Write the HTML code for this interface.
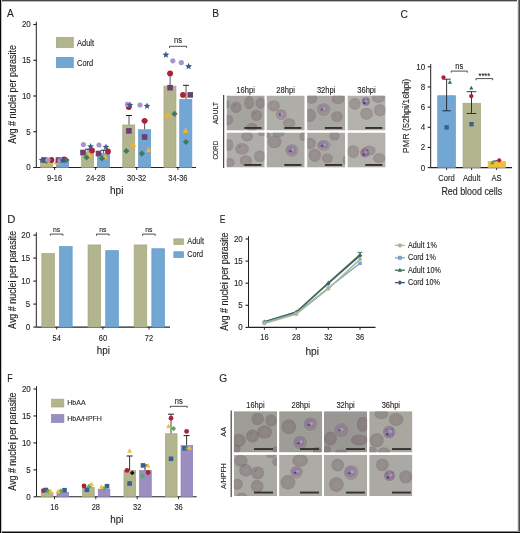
<!DOCTYPE html>
<html><head><meta charset="utf-8"><style>html,body{margin:0;padding:0;background:#fff;overflow:hidden;}svg{display:block;will-change:transform;}text{font-family:"Liberation Sans", sans-serif;}</style></head>
<body>
<svg width="520" height="533" viewBox="0 0 520 533" font-family='"Liberation Sans", sans-serif'>
<defs><radialGradient id="rbcG" cx="0.5" cy="0.5" r="0.5"><stop offset="0" stop-color="#5f4850" stop-opacity="0.26"/><stop offset="0.8" stop-color="#5f4850" stop-opacity="0.31"/><stop offset="1" stop-color="#5f4850" stop-opacity="0.39"/></radialGradient><radialGradient id="rbcB" cx="0.5" cy="0.5" r="0.5"><stop offset="0" stop-color="#5f4850" stop-opacity="0.24"/><stop offset="0.8" stop-color="#5f4850" stop-opacity="0.29"/><stop offset="1" stop-color="#5f4850" stop-opacity="0.37"/></radialGradient></defs>
<rect width="520" height="533" fill="#fff"/>
<g shape-rendering="crispEdges">
<rect x="0" y="0" width="520" height="1" fill="#474747"/>
<rect x="0" y="1" width="520" height="1" fill="#bdbdbd"/>
<rect x="517" y="0" width="1" height="533" fill="#e6e6e6"/>
<rect x="518" y="0" width="1" height="533" fill="#8a8a8a"/>
<rect x="519" y="0" width="1" height="533" fill="#484848"/>
<rect x="0" y="531" width="520" height="1" fill="#8c8c8c"/>
<rect x="0" y="532" width="520" height="1" fill="#080808"/>
<rect x="0" y="0" width="1" height="533" fill="#080808"/>
<rect x="1" y="0" width="1" height="533" fill="#c4c4c4"/>
</g>
<text x="7" y="16.9" font-size="11.3" textLength="6.78" lengthAdjust="spacingAndGlyphs" fill="#231f20" stroke="#231f20" stroke-width="0.12">A</text>
<text x="212.2" y="17.3" font-size="11.3" textLength="6.78" lengthAdjust="spacingAndGlyphs" fill="#231f20" stroke="#231f20" stroke-width="0.12">B</text>
<text x="400.5" y="17.7" font-size="11.3" textLength="7.34" lengthAdjust="spacingAndGlyphs" fill="#231f20" stroke="#231f20" stroke-width="0.12">C</text>
<text x="7.2" y="222.5" font-size="11.3" textLength="8.16" lengthAdjust="spacingAndGlyphs" fill="#231f20" stroke="#231f20" stroke-width="0.12">D</text>
<text x="219.7" y="222.8" font-size="11.3" textLength="5.73" lengthAdjust="spacingAndGlyphs" fill="#231f20" stroke="#231f20" stroke-width="0.12">E</text>
<text x="7.2" y="381.9" font-size="11.3" textLength="5.38" lengthAdjust="spacingAndGlyphs" fill="#231f20" stroke="#231f20" stroke-width="0.12">F</text>
<text x="219.3" y="381.6" font-size="11.3" textLength="7.91" lengthAdjust="spacingAndGlyphs" fill="#231f20" stroke="#231f20" stroke-width="0.12">G</text>
<line x1="36.3" y1="21.7" x2="36.3" y2="167.5" stroke="#231f20" stroke-width="1"/>
<line x1="33.3" y1="167.5" x2="36.3" y2="167.5" stroke="#231f20" stroke-width="1.1"/>
<text x="30.8" y="170.4" font-size="8.4" text-anchor="end" textLength="4.45" lengthAdjust="spacingAndGlyphs" fill="#231f20" stroke="#231f20" stroke-width="0.12">0</text>
<line x1="33.3" y1="131.75" x2="36.3" y2="131.75" stroke="#231f20" stroke-width="1.1"/>
<text x="30.8" y="134.65" font-size="8.4" text-anchor="end" textLength="4.45" lengthAdjust="spacingAndGlyphs" fill="#231f20" stroke="#231f20" stroke-width="0.12">5</text>
<line x1="33.3" y1="96.0" x2="36.3" y2="96.0" stroke="#231f20" stroke-width="1.1"/>
<text x="30.8" y="98.9" font-size="8.4" text-anchor="end" textLength="8.9" lengthAdjust="spacingAndGlyphs" fill="#231f20" stroke="#231f20" stroke-width="0.12">10</text>
<line x1="33.3" y1="60.25" x2="36.3" y2="60.25" stroke="#231f20" stroke-width="1.1"/>
<text x="30.8" y="63.15" font-size="8.4" text-anchor="end" textLength="8.9" lengthAdjust="spacingAndGlyphs" fill="#231f20" stroke="#231f20" stroke-width="0.12">15</text>
<line x1="33.3" y1="24.5" x2="36.3" y2="24.5" stroke="#231f20" stroke-width="1.1"/>
<text x="30.8" y="27.4" font-size="8.4" text-anchor="end" textLength="8.9" lengthAdjust="spacingAndGlyphs" fill="#231f20" stroke="#231f20" stroke-width="0.12">20</text>
<line x1="36.3" y1="167.5" x2="196" y2="167.5" stroke="#231f20" stroke-width="1.1"/>
<line x1="54.6" y1="167.5" x2="54.6" y2="170.0" stroke="#231f20" stroke-width="0.9"/>
<text x="54.6" y="181" font-size="8.62" text-anchor="middle" textLength="15.01" lengthAdjust="spacingAndGlyphs" fill="#231f20" stroke="#231f20" stroke-width="0.12">9-16</text>
<line x1="95.6" y1="167.5" x2="95.6" y2="170.0" stroke="#231f20" stroke-width="0.9"/>
<text x="95.6" y="181" font-size="8.62" text-anchor="middle" textLength="19.18" lengthAdjust="spacingAndGlyphs" fill="#231f20" stroke="#231f20" stroke-width="0.12">24-28</text>
<line x1="136.7" y1="167.5" x2="136.7" y2="170.0" stroke="#231f20" stroke-width="0.9"/>
<text x="136.7" y="181" font-size="8.62" text-anchor="middle" textLength="19.18" lengthAdjust="spacingAndGlyphs" fill="#231f20" stroke="#231f20" stroke-width="0.12">30-32</text>
<line x1="177.9" y1="167.5" x2="177.9" y2="170.0" stroke="#231f20" stroke-width="0.9"/>
<text x="177.9" y="181" font-size="8.62" text-anchor="middle" textLength="19.18" lengthAdjust="spacingAndGlyphs" fill="#231f20" stroke="#231f20" stroke-width="0.12">34-36</text>
<text x="116.7" y="194.4" font-size="10.35" text-anchor="middle" textLength="13.4" lengthAdjust="spacingAndGlyphs" fill="#231f20" stroke="#231f20" stroke-width="0.12">hpi</text>
<text x="15.8" y="94.4" font-size="10.2" text-anchor="middle" transform="rotate(-90 15.8 94.4)" textLength="98.6" lengthAdjust="spacingAndGlyphs" fill="#231f20" stroke="#231f20" stroke-width="0.12">Avg # nuclei per parasite</text>
<rect x="40.65" y="161.35" width="12.00" height="6.15" fill="#b3b58f" stroke="#a4a67e" stroke-width="0.7"/>
<rect x="56.45" y="161.35" width="12.10" height="6.15" fill="#72a7d3" stroke="#5f98c8" stroke-width="0.7"/>
<rect x="81.65" y="151.85" width="12.00" height="15.65" fill="#b3b58f" stroke="#a4a67e" stroke-width="0.7"/>
<rect x="97.45" y="153.35" width="12.10" height="14.15" fill="#72a7d3" stroke="#5f98c8" stroke-width="0.7"/>
<rect x="122.75" y="124.95" width="12.00" height="42.55" fill="#b3b58f" stroke="#a4a67e" stroke-width="0.7"/>
<rect x="138.55" y="129.75" width="12.10" height="37.75" fill="#72a7d3" stroke="#5f98c8" stroke-width="0.7"/>
<rect x="163.95" y="86.15" width="12.00" height="81.35" fill="#b3b58f" stroke="#a4a67e" stroke-width="0.7"/>
<rect x="179.75" y="99.55" width="12.10" height="67.95" fill="#72a7d3" stroke="#5f98c8" stroke-width="0.7"/>
<line x1="88" y1="149.2" x2="88" y2="151.5" stroke="#555" stroke-width="1"/>
<line x1="85.0" y1="149.2" x2="91.0" y2="149.2" stroke="#231f20" stroke-width="1"/>
<line x1="103.6" y1="150.2" x2="103.6" y2="153" stroke="#555" stroke-width="1"/>
<line x1="100.6" y1="150.2" x2="106.6" y2="150.2" stroke="#231f20" stroke-width="1"/>
<line x1="129" y1="115.5" x2="129" y2="124.6" stroke="#555" stroke-width="1"/>
<line x1="126.0" y1="115.5" x2="132.0" y2="115.5" stroke="#231f20" stroke-width="1"/>
<line x1="144.6" y1="120.8" x2="144.6" y2="129.4" stroke="#555" stroke-width="1"/>
<line x1="141.6" y1="120.8" x2="147.6" y2="120.8" stroke="#231f20" stroke-width="1"/>
<line x1="170.1" y1="73.4" x2="170.1" y2="85.8" stroke="#555" stroke-width="1"/>
<line x1="167.1" y1="73.4" x2="173.1" y2="73.4" stroke="#231f20" stroke-width="1"/>
<line x1="186" y1="85.3" x2="186" y2="99.2" stroke="#555" stroke-width="1"/>
<line x1="183.0" y1="85.3" x2="189.0" y2="85.3" stroke="#231f20" stroke-width="1"/>
<rect x="56.35" y="37.35" width="16.90" height="10.35" fill="#b3b58f" stroke="#a4a67e" stroke-width="0.7"/>
<rect x="56.35" y="57.35" width="16.90" height="10.35" fill="#72a7d3" stroke="#5f98c8" stroke-width="0.7"/>
<text x="77" y="45.5" font-size="8.62" textLength="17.1" lengthAdjust="spacingAndGlyphs" fill="#231f20" stroke="#231f20" stroke-width="0.12">Adult</text>
<text x="77" y="65.5" font-size="8.62" textLength="16.26" lengthAdjust="spacingAndGlyphs" fill="#231f20" stroke="#231f20" stroke-width="0.12">Cord</text>
<path d="M169.5 47.9 L169.5 46.3 L186.6 46.3 L186.6 47.9" fill="none" stroke="#231f20" stroke-width="0.8"/>
<text x="178.05" y="43.2" font-size="8.62" text-anchor="middle" textLength="7.92" lengthAdjust="spacingAndGlyphs" fill="#231f20" stroke="#231f20" stroke-width="0.12">ns</text>
<polygon points="48.5,159.06 51.5,164.46 45.5,164.46" fill="#f0b52e"/>
<circle cx="51.5" cy="160" r="2.9" fill="#aa2339"/>
<rect x="41.7" y="157.2" width="5.6" height="5.6" fill="#6b3f6e"/>
<polygon points="46.5,157.9 49.6,161 46.5,164.1 43.4,161" fill="#3f7a5a"/>
<circle cx="48" cy="160" r="2.6" fill="#a597cb"/>
<polygon points="42.00,156.40 42.95,158.69 45.42,158.89 43.54,160.50 44.12,162.91 42.00,161.62 39.88,162.91 40.46,160.50 38.58,158.89 41.05,158.69" fill="#3c5b8c"/>
<polygon points="56.5,159.06 59.5,164.46 53.5,164.46" fill="#f0b52e"/>
<circle cx="64" cy="159.5" r="2.9" fill="#aa2339"/>
<rect x="55.7" y="157.2" width="5.6" height="5.6" fill="#6b3f6e"/>
<polygon points="66.5,156.9 69.6,160 66.5,163.1 63.4,160" fill="#3f7a5a"/>
<circle cx="60" cy="160.5" r="2.6" fill="#a597cb"/>
<polygon points="62.50,156.90 63.45,159.19 65.92,159.39 64.04,161.00 64.62,163.41 62.50,162.12 60.38,163.41 60.96,161.00 59.08,159.39 61.55,159.19" fill="#3c5b8c"/>
<polygon points="89.5,151.76 92.5,157.16 86.5,157.16" fill="#f0b52e"/>
<circle cx="92" cy="150.5" r="2.9" fill="#aa2339"/>
<rect x="80.2" y="149.7" width="5.6" height="5.6" fill="#6b3f6e"/>
<polygon points="86.5,154.4 89.6,157.5 86.5,160.6 83.4,157.5" fill="#3f7a5a"/>
<circle cx="83.4" cy="144.6" r="2.6" fill="#a597cb"/>
<polygon points="90.60,142.90 91.55,145.19 94.02,145.39 92.14,147.00 92.72,149.41 90.60,148.12 88.48,149.41 89.06,147.00 87.18,145.39 89.65,145.19" fill="#3c5b8c"/>
<polygon points="105,153.76 108.0,159.16 102.0,159.16" fill="#f0b52e"/>
<circle cx="108" cy="151.5" r="2.9" fill="#aa2339"/>
<rect x="95.7" y="150.7" width="5.6" height="5.6" fill="#6b3f6e"/>
<polygon points="102,155.4 105.1,158.5 102,161.6 98.9,158.5" fill="#3f7a5a"/>
<circle cx="99" cy="145" r="2.6" fill="#a597cb"/>
<polygon points="106.00,143.40 106.95,145.69 109.42,145.89 107.54,147.50 108.12,149.91 106.00,148.62 103.88,149.91 104.46,147.50 102.58,145.89 105.05,145.69" fill="#3c5b8c"/>
<circle cx="128.8" cy="107" r="2.9" fill="#aa2339"/>
<polygon points="133.2,141.35999999999999 136.2,146.76 130.2,146.76" fill="#f0b52e"/>
<rect x="126.10000000000001" y="128.1" width="5.6" height="5.6" fill="#6b3f6e"/>
<polygon points="126.3,147.9 129.4,151 126.3,154.1 123.2,151" fill="#3f7a5a"/>
<circle cx="127.5" cy="104.4" r="2.6" fill="#a597cb"/>
<polygon points="130.00,101.40 130.95,103.69 133.42,103.89 131.54,105.50 132.12,107.91 130.00,106.62 127.88,107.91 128.46,105.50 126.58,103.89 129.05,103.69" fill="#3c5b8c"/>
<polygon points="148.7,146.76 151.7,152.16 145.7,152.16" fill="#f0b52e"/>
<circle cx="144.6" cy="120.8" r="2.9" fill="#aa2339"/>
<rect x="141.79999999999998" y="134.2" width="5.6" height="5.6" fill="#6b3f6e"/>
<polygon points="141.9,150.5 145.0,153.6 141.9,156.7 138.8,153.6" fill="#3f7a5a"/>
<circle cx="140" cy="105" r="2.6" fill="#a597cb"/>
<polygon points="147.00,102.40 147.95,104.69 150.42,104.89 148.54,106.50 149.12,108.91 147.00,107.62 144.88,108.91 145.46,106.50 143.58,104.89 146.05,104.69" fill="#3c5b8c"/>
<polygon points="167.7,111.86 170.7,117.25999999999999 164.7,117.25999999999999" fill="#f0b52e"/>
<circle cx="170.1" cy="73.4" r="2.9" fill="#aa2339"/>
<rect x="167.29999999999998" y="84.9" width="5.6" height="5.6" fill="#6b3f6e"/>
<polygon points="174.5,110.7 177.6,113.8 174.5,116.89999999999999 171.4,113.8" fill="#3f7a5a"/>
<circle cx="172.8" cy="60.8" r="2.6" fill="#a597cb"/>
<polygon points="165.90,51.30 166.85,53.59 169.32,53.79 167.44,55.40 168.02,57.81 165.90,56.52 163.78,57.81 164.36,55.40 162.48,53.79 164.95,53.59" fill="#3c5b8c"/>
<polygon points="185.6,127.56000000000002 188.6,132.96 182.6,132.96" fill="#f0b52e"/>
<circle cx="183" cy="94.9" r="2.9" fill="#aa2339"/>
<rect x="187.39999999999998" y="92.10000000000001" width="5.6" height="5.6" fill="#6b3f6e"/>
<polygon points="186,138.9 189.1,142 186,145.1 182.9,142" fill="#3f7a5a"/>
<circle cx="181.3" cy="62.6" r="2.6" fill="#a597cb"/>
<polygon points="188.60,62.80 189.55,65.09 192.02,65.29 190.14,66.90 190.72,69.31 188.60,68.02 186.48,69.31 187.06,66.90 185.18,65.29 187.65,65.09" fill="#3c5b8c"/>
<line x1="223.7" y1="95" x2="223.7" y2="168" stroke="#231f20" stroke-width="1"/>
<text x="245.6" y="92.7" font-size="8.74" text-anchor="middle" textLength="18.6" lengthAdjust="spacingAndGlyphs" fill="#231f20" stroke="#231f20" stroke-width="0.12">16hpi</text>
<text x="285.6" y="92.7" font-size="8.74" text-anchor="middle" textLength="18.6" lengthAdjust="spacingAndGlyphs" fill="#231f20" stroke="#231f20" stroke-width="0.12">28hpi</text>
<text x="326.20000000000005" y="92.7" font-size="8.74" text-anchor="middle" textLength="18.6" lengthAdjust="spacingAndGlyphs" fill="#231f20" stroke="#231f20" stroke-width="0.12">32hpi</text>
<text x="366.5" y="92.7" font-size="8.74" text-anchor="middle" textLength="18.6" lengthAdjust="spacingAndGlyphs" fill="#231f20" stroke="#231f20" stroke-width="0.12">36hpi</text>
<text x="218.5" y="113.1" font-size="8.05" text-anchor="middle" transform="rotate(-90 218.5 113.1)" textLength="22.43" lengthAdjust="spacingAndGlyphs" fill="#231f20" stroke="#231f20" stroke-width="0.12">ADULT</text>
<text x="218.5" y="150.1" font-size="8.05" text-anchor="middle" transform="rotate(-90 218.5 150.1)" textLength="18.9" lengthAdjust="spacingAndGlyphs" fill="#231f20" stroke="#231f20" stroke-width="0.12">CORD</text>
<clipPath id="c226_95"><rect x="226.5" y="95.5" width="38.2" height="35.1"/></clipPath>
<g clip-path="url(#c226_95)">
<rect x="226.5" y="95.5" width="38.2" height="35.1" fill="#a5a49e"/>
<ellipse cx="236.0" cy="107.4" rx="5.6" ry="5.6" fill="url(#rbcB)"/>
<circle cx="234.04" cy="105.72" r="0.7" fill="#5a4a88" opacity="0.5"/>
<circle cx="235.44" cy="104.88000000000001" r="0.5" fill="#5a3a7a" opacity="0.5"/>
<ellipse cx="249.1" cy="102.7" rx="4.8" ry="6.6" fill="url(#rbcB)"/>
<ellipse cx="260.5" cy="103.1" rx="5" ry="5.6" fill="url(#rbcB)"/>
<ellipse cx="256.5" cy="115.3" rx="5.6" ry="5.6" fill="url(#rbcB)"/>
<circle cx="254.54" cy="113.61999999999999" r="0.7" fill="#5a4a88" opacity="0.5"/>
<circle cx="255.94" cy="112.78" r="0.5" fill="#5a3a7a" opacity="0.5"/>
<ellipse cx="228.5" cy="120.0" rx="4.5" ry="5" fill="url(#rbcB)"/>
<ellipse cx="227.0" cy="104.5" rx="2.5" ry="4" fill="url(#rbcB)"/>
<ellipse cx="251.8" cy="127.1" rx="5.5" ry="4" fill="url(#rbcB)"/>
<rect x="244.29999999999998" y="127.0" width="17.2" height="1.9" fill="#35322e"/>
</g>
<clipPath id="c266_95"><rect x="266.5" y="95.5" width="38.2" height="35.1"/></clipPath>
<g clip-path="url(#c266_95)">
<rect x="266.5" y="95.5" width="38.2" height="35.1" fill="#b0aea9"/>
<ellipse cx="273.8" cy="105.8" rx="6" ry="5.6" fill="url(#rbcB)"/>
<ellipse cx="281.3" cy="114.5" rx="6.3999999999999995" ry="6.3999999999999995" fill="#ffffff" fill-opacity="0.12"/>
<ellipse cx="281.3" cy="114.5" rx="5.8" ry="5.8" fill="url(#rbcB)"/>
<ellipse cx="281.3" cy="113.63" rx="4.176" ry="3.596" fill="#8c78ac" opacity="0.42"/>
<circle cx="281.88" cy="113.92" r="1.16" fill="#d2c8cc" opacity="0.45"/>
<circle cx="279.85" cy="114.5" r="0.9" fill="#4a2a40" opacity="0.8"/>
<ellipse cx="289.1" cy="123.2" rx="6" ry="5" fill="url(#rbcB)"/>
<rect x="284.3" y="127.0" width="17.2" height="1.9" fill="#35322e"/>
</g>
<clipPath id="c307_95"><rect x="307.1" y="95.5" width="38.2" height="35.1"/></clipPath>
<g clip-path="url(#c307_95)">
<rect x="307.1" y="95.5" width="38.2" height="35.1" fill="#a8a7a1"/>
<ellipse cx="311.6" cy="98.7" rx="5.5" ry="5" fill="url(#rbcB)"/>
<ellipse cx="338.0" cy="99.1" rx="6.5" ry="5" fill="url(#rbcB)"/>
<ellipse cx="310.0" cy="115.3" rx="6" ry="6.5" fill="url(#rbcB)"/>
<ellipse cx="323.5" cy="109.4" rx="7.6" ry="7.1" fill="#ffffff" fill-opacity="0.12"/>
<ellipse cx="323.5" cy="109.4" rx="7" ry="6.5" fill="url(#rbcB)"/>
<ellipse cx="323.5" cy="108.42500000000001" rx="5.04" ry="4.03" fill="#8c78ac" opacity="0.42"/>
<circle cx="324.2" cy="108.75" r="1.3" fill="#d2c8cc" opacity="0.45"/>
<circle cx="321.75" cy="109.4" r="0.9" fill="#4a2a40" opacity="0.8"/>
<ellipse cx="336.90000000000003" cy="116.5" rx="5.8" ry="5.3" fill="url(#rbcB)"/>
<rect x="324.90000000000003" y="127.0" width="17.2" height="1.9" fill="#35322e"/>
</g>
<clipPath id="c347_95"><rect x="347.4" y="95.5" width="38.2" height="35.1"/></clipPath>
<g clip-path="url(#c347_95)">
<rect x="347.4" y="95.5" width="38.2" height="35.1" fill="#b3b2ad"/>
<ellipse cx="354.79999999999995" cy="103.9" rx="5.8" ry="5.8" fill="url(#rbcB)"/>
<ellipse cx="378.4" cy="97.9" rx="6.5" ry="5" fill="url(#rbcB)"/>
<ellipse cx="366.59999999999997" cy="113.7" rx="6.3" ry="6" fill="url(#rbcB)"/>
<ellipse cx="380.0" cy="110.2" rx="6" ry="6" fill="url(#rbcB)"/>
<ellipse cx="365.79999999999995" cy="101.5" rx="5.199999999999999" ry="5.199999999999999" fill="#ffffff" fill-opacity="0.12"/>
<ellipse cx="365.79999999999995" cy="101.5" rx="4.6" ry="4.6" fill="url(#rbcB)"/>
<ellipse cx="365.79999999999995" cy="101.5" rx="4.14" ry="4.14" fill="#8a6aa6" opacity="0.45"/>
<circle cx="363.49999999999994" cy="101.27" r="1" fill="#6a6ab0" opacity="0.6"/>
<circle cx="368.09999999999997" cy="102.88" r="1" fill="#a04a88" opacity="0.6"/>
<circle cx="366.03" cy="104.03" r="0.9" fill="#7060a8" opacity="0.6"/>
<circle cx="366.71999999999997" cy="101.04" r="1.012" fill="#cfc3cf" opacity="0.45"/>
<circle cx="364.41999999999996" cy="103.11" r="1.1" fill="#3a2030" opacity="0.85"/>
<circle cx="367.86999999999995" cy="99.43" r="0.7" fill="#5a3060" opacity="0.8"/>
<circle cx="363.72999999999996" cy="99.66" r="0.7" fill="#7a3a70" opacity="0.8"/>
<rect x="365.2" y="127.0" width="17.2" height="1.9" fill="#35322e"/>
</g>
<clipPath id="c226_132"><rect x="226.5" y="132.5" width="38.2" height="35.1"/></clipPath>
<g clip-path="url(#c226_132)">
<rect x="226.5" y="132.5" width="38.2" height="35.1" fill="#afaeaa"/>
<ellipse cx="247.1" cy="136.6" rx="6" ry="4.8" fill="url(#rbcB)"/>
<ellipse cx="228.9" cy="144.9" rx="4.5" ry="6" fill="url(#rbcB)"/>
<ellipse cx="242.0" cy="148.8" rx="6.8" ry="5.8" fill="url(#rbcB)"/>
<circle cx="239.62" cy="147.06" r="0.7" fill="#5a4a88" opacity="0.5"/>
<circle cx="241.32" cy="146.19" r="0.5" fill="#5a3a7a" opacity="0.5"/>
<ellipse cx="259.7" cy="156.3" rx="5.8" ry="5.8" fill="url(#rbcB)"/>
<ellipse cx="245.9" cy="160.7" rx="6" ry="5.5" fill="url(#rbcB)"/>
<ellipse cx="229.7" cy="162.6" rx="5" ry="4.5" fill="url(#rbcB)"/>
<ellipse cx="262.0" cy="133.5" rx="4" ry="2.5" fill="url(#rbcB)"/>
<rect x="244.29999999999998" y="164.0" width="17.2" height="1.9" fill="#35322e"/>
</g>
<clipPath id="c266_132"><rect x="266.5" y="132.5" width="38.2" height="35.1"/></clipPath>
<g clip-path="url(#c266_132)">
<rect x="266.5" y="132.5" width="38.2" height="35.1" fill="#abaaa5"/>
<ellipse cx="274.6" cy="141.7" rx="7" ry="6.3" fill="url(#rbcB)"/>
<ellipse cx="291.9" cy="150.4" rx="7.3999999999999995" ry="7.1" fill="#ffffff" fill-opacity="0.12"/>
<ellipse cx="291.9" cy="150.4" rx="6.8" ry="6.5" fill="url(#rbcB)"/>
<ellipse cx="291.21999999999997" cy="149.75" rx="4.896" ry="4.55" fill="#8a70aa" opacity="0.55"/>
<circle cx="288.84" cy="151.05" r="0.9" fill="#6a5aa0" opacity="0.5"/>
<circle cx="294.28" cy="152.675" r="0.8" fill="#a05090" opacity="0.5"/>
<circle cx="292.91999999999996" cy="149.75" r="1.43" fill="#d0c6cc" opacity="0.45"/>
<circle cx="290.53999999999996" cy="151.05" r="1" fill="#4a2a40" opacity="0.8"/>
<ellipse cx="278.5" cy="133.9" rx="6" ry="3" fill="url(#rbcB)"/>
<ellipse cx="303.0" cy="136.2" rx="3.5" ry="4.5" fill="url(#rbcB)"/>
<ellipse cx="267.5" cy="135.0" rx="3" ry="3" fill="url(#rbcB)"/>
<rect x="284.3" y="164.0" width="17.2" height="1.9" fill="#35322e"/>
</g>
<clipPath id="c307_132"><rect x="307.1" y="132.5" width="38.2" height="35.1"/></clipPath>
<g clip-path="url(#c307_132)">
<rect x="307.1" y="132.5" width="38.2" height="35.1" fill="#abaaa5"/>
<ellipse cx="334.5" cy="135.8" rx="5" ry="4.8" fill="url(#rbcB)"/>
<ellipse cx="310.40000000000003" cy="143.3" rx="5.5" ry="5.5" fill="url(#rbcB)"/>
<ellipse cx="323.8" cy="145.3" rx="7.6" ry="6.1" fill="#ffffff" fill-opacity="0.12"/>
<ellipse cx="323.8" cy="145.3" rx="7" ry="5.5" fill="url(#rbcB)"/>
<ellipse cx="323.1" cy="144.75" rx="5.04" ry="3.8499999999999996" fill="#8a70aa" opacity="0.55"/>
<circle cx="320.65000000000003" cy="145.85000000000002" r="0.9" fill="#6a5aa0" opacity="0.5"/>
<circle cx="326.25" cy="147.22500000000002" r="0.8" fill="#a05090" opacity="0.5"/>
<circle cx="324.85" cy="144.75" r="1.21" fill="#d0c6cc" opacity="0.45"/>
<circle cx="322.40000000000003" cy="145.85000000000002" r="1" fill="#4a2a40" opacity="0.8"/>
<ellipse cx="314.8" cy="155.2" rx="6" ry="6.5" fill="url(#rbcB)"/>
<ellipse cx="327.40000000000003" cy="158.3" rx="5.5" ry="4.8" fill="url(#rbcB)"/>
<ellipse cx="344.70000000000005" cy="160.3" rx="2" ry="4" fill="url(#rbcB)"/>
<rect x="324.90000000000003" y="164.0" width="17.2" height="1.9" fill="#35322e"/>
</g>
<clipPath id="c347_132"><rect x="347.4" y="132.5" width="38.2" height="35.1"/></clipPath>
<g clip-path="url(#c347_132)">
<rect x="347.4" y="132.5" width="38.2" height="35.1" fill="#b2b1ac"/>
<ellipse cx="353.2" cy="151.6" rx="6" ry="6.3" fill="url(#rbcB)"/>
<ellipse cx="369.0" cy="150.8" rx="6.5" ry="5" fill="url(#rbcB)"/>
<ellipse cx="379.2" cy="158.3" rx="6" ry="5" fill="url(#rbcB)"/>
<ellipse cx="365.0" cy="152.8" rx="5.6" ry="5.6" fill="#ffffff" fill-opacity="0.12"/>
<ellipse cx="365.0" cy="152.8" rx="5" ry="5" fill="url(#rbcB)"/>
<ellipse cx="365.0" cy="152.8" rx="4.5" ry="4.5" fill="#8a6aa6" opacity="0.45"/>
<circle cx="362.5" cy="152.55" r="1" fill="#6a6ab0" opacity="0.6"/>
<circle cx="367.5" cy="154.3" r="1" fill="#a04a88" opacity="0.6"/>
<circle cx="365.25" cy="155.55" r="0.9" fill="#7060a8" opacity="0.6"/>
<circle cx="366.0" cy="152.3" r="1.1" fill="#cfc3cf" opacity="0.45"/>
<circle cx="363.5" cy="154.55" r="1.1" fill="#3a2030" opacity="0.85"/>
<circle cx="367.25" cy="150.55" r="0.7" fill="#5a3060" opacity="0.8"/>
<circle cx="362.75" cy="150.8" r="0.7" fill="#7a3a70" opacity="0.8"/>
<rect x="365.2" y="164.0" width="17.2" height="1.9" fill="#35322e"/>
</g>
<line x1="231.2" y1="410.5" x2="231.2" y2="497" stroke="#444" stroke-width="1.2"/>
<text x="255.4" y="408.1" font-size="8.62" text-anchor="middle" textLength="18.35" lengthAdjust="spacingAndGlyphs" fill="#231f20" stroke="#231f20" stroke-width="0.12">16hpi</text>
<text x="300.70000000000005" y="408.1" font-size="8.62" text-anchor="middle" textLength="18.35" lengthAdjust="spacingAndGlyphs" fill="#231f20" stroke="#231f20" stroke-width="0.12">28hpi</text>
<text x="345.6" y="408.1" font-size="8.62" text-anchor="middle" textLength="18.35" lengthAdjust="spacingAndGlyphs" fill="#231f20" stroke="#231f20" stroke-width="0.12">32hpi</text>
<text x="390.8" y="408.1" font-size="8.62" text-anchor="middle" textLength="18.35" lengthAdjust="spacingAndGlyphs" fill="#231f20" stroke="#231f20" stroke-width="0.12">36hpi</text>
<text x="226.1" y="431.8" font-size="7.3" text-anchor="middle" transform="rotate(-90 226.1 431.8)" fill="#231f20" stroke="#231f20" stroke-width="0.12">AA</text>
<text x="226.1" y="476" font-size="7.3" text-anchor="middle" transform="rotate(-90 226.1 476)" textLength="25.9" lengthAdjust="spacingAndGlyphs" fill="#231f20" stroke="#231f20" stroke-width="0.12">A/HPFH</text>
<clipPath id="c233_411"><rect x="233.8" y="411.2" width="43.2" height="41.2"/></clipPath>
<g clip-path="url(#c233_411)">
<rect x="233.8" y="411.2" width="43.2" height="41.2" fill="#9e9d97"/>
<ellipse cx="257.7" cy="419.09999999999997" rx="6.2" ry="6" fill="url(#rbcG)"/>
<ellipse cx="271.1" cy="420.4" rx="5.8" ry="6" fill="url(#rbcG)"/>
<ellipse cx="264.6" cy="432.09999999999997" rx="7.4" ry="6.5" fill="url(#rbcG)"/>
<ellipse cx="252.5" cy="436.0" rx="6.5" ry="6.5" fill="url(#rbcG)"/>
<circle cx="250.225" cy="434.05" r="0.7" fill="#5a4a88" opacity="0.5"/>
<circle cx="251.85" cy="433.075" r="0.5" fill="#5a3a7a" opacity="0.5"/>
<ellipse cx="239.10000000000002" cy="440.3" rx="6.5" ry="6.5" fill="url(#rbcG)"/>
<ellipse cx="236.5" cy="449.0" rx="4" ry="4" fill="url(#rbcG)"/>
<ellipse cx="275.40000000000003" cy="449.4" rx="3" ry="3" fill="url(#rbcG)"/>
<rect x="254" y="448.1" width="19" height="1.9" fill="#35322e"/>
</g>
<clipPath id="c279_411"><rect x="279.1" y="411.2" width="43.2" height="41.2"/></clipPath>
<g clip-path="url(#c279_411)">
<rect x="279.1" y="411.2" width="43.2" height="41.2" fill="#9d9d95"/>
<ellipse cx="288.8" cy="426.9" rx="7.3" ry="7.3" fill="url(#rbcG)"/>
<ellipse cx="310.5" cy="424.3" rx="7.6" ry="7.6" fill="#ffffff" fill-opacity="0.12"/>
<ellipse cx="310.5" cy="424.3" rx="7" ry="7" fill="url(#rbcG)"/>
<ellipse cx="309.8" cy="423.6" rx="5.04" ry="4.8999999999999995" fill="#8a70aa" opacity="0.55"/>
<circle cx="307.35" cy="425.0" r="0.9" fill="#6a5aa0" opacity="0.5"/>
<circle cx="312.95" cy="426.75" r="0.8" fill="#a05090" opacity="0.5"/>
<circle cx="311.55" cy="423.6" r="1.54" fill="#d0c6cc" opacity="0.45"/>
<circle cx="309.1" cy="425.0" r="1" fill="#4a2a40" opacity="0.8"/>
<ellipse cx="300.1" cy="442.5" rx="7.6" ry="7.6" fill="#ffffff" fill-opacity="0.12"/>
<ellipse cx="300.1" cy="442.5" rx="7" ry="7" fill="url(#rbcG)"/>
<ellipse cx="299.40000000000003" cy="441.8" rx="5.04" ry="4.8999999999999995" fill="#8a70aa" opacity="0.55"/>
<circle cx="296.95000000000005" cy="443.2" r="0.9" fill="#6a5aa0" opacity="0.5"/>
<circle cx="302.55" cy="444.95" r="0.8" fill="#a05090" opacity="0.5"/>
<circle cx="301.15000000000003" cy="441.8" r="1.54" fill="#d0c6cc" opacity="0.45"/>
<circle cx="298.70000000000005" cy="443.2" r="1" fill="#4a2a40" opacity="0.8"/>
<ellipse cx="317.0" cy="450.7" rx="4" ry="4" fill="url(#rbcG)"/>
<rect x="300" y="448.1" width="19" height="1.9" fill="#35322e"/>
</g>
<clipPath id="c324_411"><rect x="324.0" y="411.2" width="43.2" height="41.2"/></clipPath>
<g clip-path="url(#c324_411)">
<rect x="324.0" y="411.2" width="43.2" height="41.2" fill="#989793"/>
<ellipse cx="362.8" cy="424.3" rx="6" ry="7.5" fill="url(#rbcG)"/>
<ellipse cx="330.4" cy="438.59999999999997" rx="6.5" ry="7" fill="url(#rbcG)"/>
<ellipse cx="359.4" cy="439.9" rx="8.5" ry="5.5" fill="url(#rbcG)"/>
<ellipse cx="326.9" cy="449.8" rx="4" ry="4" fill="url(#rbcG)"/>
<ellipse cx="341.2" cy="452.4" rx="6" ry="3" fill="url(#rbcG)"/>
<ellipse cx="341.2" cy="430.3" rx="7.8999999999999995" ry="7.8999999999999995" fill="#ffffff" fill-opacity="0.12"/>
<ellipse cx="341.2" cy="430.3" rx="7.3" ry="7.3" fill="url(#rbcG)"/>
<ellipse cx="341.2" cy="429.205" rx="5.255999999999999" ry="4.526" fill="#8c78ac" opacity="0.42"/>
<circle cx="341.93" cy="429.57" r="1.46" fill="#d2c8cc" opacity="0.45"/>
<circle cx="339.375" cy="430.3" r="0.9" fill="#4a2a40" opacity="0.8"/>
<rect x="345.9" y="448.1" width="19" height="1.9" fill="#35322e"/>
</g>
<clipPath id="c369_411"><rect x="369.2" y="411.2" width="43.2" height="41.2"/></clipPath>
<g clip-path="url(#c369_411)">
<rect x="369.2" y="411.2" width="43.2" height="41.2" fill="#a8a8a1"/>
<ellipse cx="381.4" cy="414.3" rx="6.8" ry="5" fill="url(#rbcG)"/>
<ellipse cx="396.09999999999997" cy="419.5" rx="7.3" ry="6.5" fill="url(#rbcG)"/>
<ellipse cx="376.7" cy="440.3" rx="7" ry="7" fill="url(#rbcG)"/>
<ellipse cx="372.3" cy="450.7" rx="4.5" ry="4" fill="url(#rbcG)"/>
<ellipse cx="384.0" cy="451.59999999999997" rx="6" ry="4" fill="url(#rbcG)"/>
<ellipse cx="389.2" cy="432.09999999999997" rx="7.1" ry="7.1" fill="#ffffff" fill-opacity="0.12"/>
<ellipse cx="389.2" cy="432.09999999999997" rx="6.5" ry="6.5" fill="url(#rbcG)"/>
<ellipse cx="389.2" cy="432.09999999999997" rx="5.8500000000000005" ry="5.8500000000000005" fill="#8a6aa6" opacity="0.45"/>
<circle cx="385.95" cy="431.775" r="1" fill="#6a6ab0" opacity="0.6"/>
<circle cx="392.45" cy="434.04999999999995" r="1" fill="#a04a88" opacity="0.6"/>
<circle cx="389.525" cy="435.67499999999995" r="0.9" fill="#7060a8" opacity="0.6"/>
<circle cx="390.5" cy="431.45" r="1.43" fill="#cfc3cf" opacity="0.45"/>
<circle cx="387.25" cy="434.37499999999994" r="1.1" fill="#3a2030" opacity="0.85"/>
<circle cx="392.125" cy="429.17499999999995" r="0.7" fill="#5a3060" opacity="0.8"/>
<circle cx="386.275" cy="429.49999999999994" r="0.7" fill="#7a3a70" opacity="0.8"/>
<rect x="392" y="448.1" width="19" height="1.9" fill="#35322e"/>
</g>
<clipPath id="c233_454"><rect x="233.8" y="454.8" width="43.2" height="41.2"/></clipPath>
<g clip-path="url(#c233_454)">
<rect x="233.8" y="454.8" width="43.2" height="41.2" fill="#aaa9a4"/>
<ellipse cx="240.8" cy="460.8" rx="6.8" ry="5.8" fill="url(#rbcG)"/>
<ellipse cx="245.60000000000002" cy="470.3" rx="6.3" ry="6.3" fill="url(#rbcG)"/>
<ellipse cx="257.7" cy="472.90000000000003" rx="6.5" ry="6.5" fill="url(#rbcG)"/>
<circle cx="255.42499999999998" cy="470.95000000000005" r="0.7" fill="#5a4a88" opacity="0.5"/>
<circle cx="257.05" cy="469.975" r="0.5" fill="#5a3a7a" opacity="0.5"/>
<ellipse cx="237.3" cy="484.2" rx="5.5" ry="5.5" fill="url(#rbcG)"/>
<ellipse cx="257.2" cy="486.3" rx="6.3" ry="6.3" fill="url(#rbcG)"/>
<ellipse cx="276.3" cy="461.7" rx="4" ry="4" fill="url(#rbcG)"/>
<ellipse cx="271.1" cy="454.8" rx="5" ry="3" fill="url(#rbcG)"/>
<ellipse cx="241.8" cy="495.8" rx="5" ry="3" fill="url(#rbcG)"/>
<rect x="254" y="491.6" width="19" height="1.9" fill="#35322e"/>
</g>
<clipPath id="c279_454"><rect x="279.1" y="454.8" width="43.2" height="41.2"/></clipPath>
<g clip-path="url(#c279_454)">
<rect x="279.1" y="454.8" width="43.2" height="41.2" fill="#acaba5"/>
<ellipse cx="300.1" cy="460.40000000000003" rx="7.8" ry="6.3" fill="url(#rbcG)"/>
<ellipse cx="288.0" cy="482.40000000000003" rx="7.3" ry="7.3" fill="url(#rbcG)"/>
<ellipse cx="296.6" cy="472.0" rx="7.1" ry="7.1" fill="#ffffff" fill-opacity="0.12"/>
<ellipse cx="296.6" cy="472.0" rx="6.5" ry="6.5" fill="url(#rbcG)"/>
<ellipse cx="295.95000000000005" cy="471.35" rx="4.68" ry="4.55" fill="#8a70aa" opacity="0.55"/>
<circle cx="293.675" cy="472.65" r="0.9" fill="#6a5aa0" opacity="0.5"/>
<circle cx="298.875" cy="474.275" r="0.8" fill="#a05090" opacity="0.5"/>
<circle cx="297.57500000000005" cy="471.35" r="1.43" fill="#d0c6cc" opacity="0.45"/>
<circle cx="295.3" cy="472.65" r="1" fill="#4a2a40" opacity="0.8"/>
<rect x="300" y="491.6" width="19" height="1.9" fill="#35322e"/>
</g>
<clipPath id="c324_454"><rect x="324.0" y="454.8" width="43.2" height="41.2"/></clipPath>
<g clip-path="url(#c324_454)">
<rect x="324.0" y="454.8" width="43.2" height="41.2" fill="#abaaa4"/>
<ellipse cx="337.7" cy="465.1" rx="6.3" ry="6.3" fill="url(#rbcG)"/>
<ellipse cx="336.4" cy="484.6" rx="7.3" ry="7.3" fill="url(#rbcG)"/>
<ellipse cx="351.1" cy="472.5" rx="8.1" ry="8.1" fill="#ffffff" fill-opacity="0.12"/>
<ellipse cx="351.1" cy="472.5" rx="7.5" ry="7.5" fill="url(#rbcG)"/>
<ellipse cx="350.35" cy="471.75" rx="5.3999999999999995" ry="5.25" fill="#8a70aa" opacity="0.55"/>
<circle cx="347.725" cy="473.25" r="0.9" fill="#6a5aa0" opacity="0.5"/>
<circle cx="353.725" cy="475.125" r="0.8" fill="#a05090" opacity="0.5"/>
<circle cx="352.225" cy="471.75" r="1.65" fill="#d0c6cc" opacity="0.45"/>
<circle cx="349.6" cy="473.25" r="1" fill="#4a2a40" opacity="0.8"/>
<rect x="345.9" y="491.6" width="19" height="1.9" fill="#35322e"/>
</g>
<clipPath id="c369_454"><rect x="369.2" y="454.8" width="43.2" height="41.2"/></clipPath>
<g clip-path="url(#c369_454)">
<rect x="369.2" y="454.8" width="43.2" height="41.2" fill="#aaa9a3"/>
<ellipse cx="382.3" cy="464.7" rx="6.3" ry="6.3" fill="url(#rbcG)"/>
<ellipse cx="405.7" cy="476.8" rx="6.5" ry="6.5" fill="url(#rbcG)"/>
<ellipse cx="389.59999999999997" cy="475.5" rx="6.3999999999999995" ry="6.3999999999999995" fill="#ffffff" fill-opacity="0.12"/>
<ellipse cx="389.59999999999997" cy="475.5" rx="5.8" ry="5.8" fill="url(#rbcG)"/>
<ellipse cx="389.59999999999997" cy="475.5" rx="5.22" ry="5.22" fill="#8a6aa6" opacity="0.45"/>
<circle cx="386.7" cy="475.21" r="1" fill="#6a6ab0" opacity="0.6"/>
<circle cx="392.49999999999994" cy="477.24" r="1" fill="#a04a88" opacity="0.6"/>
<circle cx="389.89" cy="478.69" r="0.9" fill="#7060a8" opacity="0.6"/>
<circle cx="390.76" cy="474.92" r="1.276" fill="#cfc3cf" opacity="0.45"/>
<circle cx="387.85999999999996" cy="477.53" r="1.1" fill="#3a2030" opacity="0.85"/>
<circle cx="392.21" cy="472.89" r="0.7" fill="#5a3060" opacity="0.8"/>
<circle cx="386.98999999999995" cy="473.18" r="0.7" fill="#7a3a70" opacity="0.8"/>
<rect x="392" y="491.6" width="19" height="1.9" fill="#35322e"/>
</g>
<line x1="430.7" y1="64.0" x2="430.7" y2="167.6" stroke="#231f20" stroke-width="1"/>
<line x1="427.7" y1="167.6" x2="430.7" y2="167.6" stroke="#231f20" stroke-width="1.1"/>
<text x="425.2" y="170.5" font-size="8.4" text-anchor="end" textLength="4.45" lengthAdjust="spacingAndGlyphs" fill="#231f20" stroke="#231f20" stroke-width="0.12">0</text>
<line x1="427.7" y1="147.44" x2="430.7" y2="147.44" stroke="#231f20" stroke-width="1.1"/>
<text x="425.2" y="150.34" font-size="8.4" text-anchor="end" textLength="4.45" lengthAdjust="spacingAndGlyphs" fill="#231f20" stroke="#231f20" stroke-width="0.12">2</text>
<line x1="427.7" y1="127.28" x2="430.7" y2="127.28" stroke="#231f20" stroke-width="1.1"/>
<text x="425.2" y="130.18" font-size="8.4" text-anchor="end" textLength="4.45" lengthAdjust="spacingAndGlyphs" fill="#231f20" stroke="#231f20" stroke-width="0.12">4</text>
<line x1="427.7" y1="107.11999999999999" x2="430.7" y2="107.11999999999999" stroke="#231f20" stroke-width="1.1"/>
<text x="425.2" y="110.02" font-size="8.4" text-anchor="end" textLength="4.45" lengthAdjust="spacingAndGlyphs" fill="#231f20" stroke="#231f20" stroke-width="0.12">6</text>
<line x1="427.7" y1="86.96" x2="430.7" y2="86.96" stroke="#231f20" stroke-width="1.1"/>
<text x="425.2" y="89.86" font-size="8.4" text-anchor="end" textLength="4.45" lengthAdjust="spacingAndGlyphs" fill="#231f20" stroke="#231f20" stroke-width="0.12">8</text>
<line x1="427.7" y1="66.8" x2="430.7" y2="66.8" stroke="#231f20" stroke-width="1.1"/>
<text x="425.2" y="69.7" font-size="8.4" text-anchor="end" textLength="8.9" lengthAdjust="spacingAndGlyphs" fill="#231f20" stroke="#231f20" stroke-width="0.12">10</text>
<line x1="430.7" y1="167.6" x2="512" y2="167.6" stroke="#231f20" stroke-width="1.1"/>
<line x1="446.6" y1="167.6" x2="446.6" y2="170.1" stroke="#231f20" stroke-width="0.9"/>
<text x="446.6" y="181.1" font-size="8.74" text-anchor="middle" textLength="16.47" lengthAdjust="spacingAndGlyphs" fill="#231f20" stroke="#231f20" stroke-width="0.12">Cord</text>
<line x1="471.6" y1="167.6" x2="471.6" y2="170.1" stroke="#231f20" stroke-width="0.9"/>
<text x="471.6" y="181.1" font-size="8.74" text-anchor="middle" textLength="17.32" lengthAdjust="spacingAndGlyphs" fill="#231f20" stroke="#231f20" stroke-width="0.12">Adult</text>
<line x1="496.6" y1="167.6" x2="496.6" y2="170.1" stroke="#231f20" stroke-width="0.9"/>
<text x="496.6" y="181.1" font-size="8.74" text-anchor="middle" textLength="10.14" lengthAdjust="spacingAndGlyphs" fill="#231f20" stroke="#231f20" stroke-width="0.12">AS</text>
<text x="471.8" y="194.5" font-size="10.23" text-anchor="middle" textLength="60.85" lengthAdjust="spacingAndGlyphs" fill="#231f20" stroke="#231f20" stroke-width="0.12">Red blood cells</text>
<text x="409" y="116" font-size="9.3" text-anchor="middle" transform="rotate(-90 409 116)" textLength="74.3" lengthAdjust="spacingAndGlyphs" fill="#231f20" stroke="#231f20" stroke-width="0.12">PMR (52hpi/16hpi)</text>
<rect x="437.75" y="95.75" width="17.60" height="71.85" fill="#72a7d3" stroke="#5f98c8" stroke-width="0.7"/>
<rect x="463.05" y="103.25" width="17.50" height="64.35" fill="#b3b58f" stroke="#a4a67e" stroke-width="0.7"/>
<rect x="488.15" y="161.65" width="17.30" height="5.95" fill="#f2bf3a" stroke="#e8b530" stroke-width="0.7"/>
<line x1="446.6" y1="79.2" x2="446.6" y2="110.8" stroke="#231f20" stroke-width="0.9"/>
<line x1="442.40000000000003" y1="79.2" x2="450.8" y2="79.2" stroke="#231f20" stroke-width="0.9"/>
<line x1="442.40000000000003" y1="110.8" x2="450.8" y2="110.8" stroke="#231f20" stroke-width="0.9"/>
<line x1="471.5" y1="91.7" x2="471.5" y2="113.5" stroke="#231f20" stroke-width="0.9"/>
<line x1="466.7" y1="91.7" x2="476.3" y2="91.7" stroke="#231f20" stroke-width="0.9"/>
<line x1="466.7" y1="113.5" x2="476.3" y2="113.5" stroke="#231f20" stroke-width="0.9"/>
<circle cx="443.5" cy="77.3" r="2.1" fill="#aa2339"/>
<polygon points="449.9,80.032 452.0,83.812 447.79999999999995,83.812" fill="#2f6b4e"/>
<circle cx="471.3" cy="96.1" r="2.2" fill="#aa2339"/>
<polygon points="471.3,85.732 473.40000000000003,89.512 469.2,89.512" fill="#2f6b4e"/>
<rect x="444.40000000000003" y="125.2" width="4.4" height="4.4" fill="#3d5f8e"/>
<rect x="469.3" y="122.0" width="4.4" height="4.4" fill="#3d5f8e"/>
<line x1="492.4" y1="161.3" x2="499.2" y2="160.3" stroke="#231f20" stroke-width="0.9"/>
<polygon points="492.4,160.432 494.5,164.212 490.29999999999995,164.212" fill="#4a9a5a"/>
<circle cx="499.2" cy="160.3" r="2.1" fill="#aa2339"/>
<path d="M451.2 72.69999999999999 L451.2 71.1 L467.3 71.1 L467.3 72.69999999999999" fill="none" stroke="#231f20" stroke-width="0.8"/>
<text x="459.25" y="68.6" font-size="8.62" text-anchor="middle" textLength="7.92" lengthAdjust="spacingAndGlyphs" fill="#231f20" stroke="#231f20" stroke-width="0.12">ns</text>
<path d="M476 80.19999999999999 L476 78.6 L492.7 78.6 L492.7 80.19999999999999" fill="none" stroke="#231f20" stroke-width="0.8"/>
<text x="484.35" y="79.3" font-size="8.62" text-anchor="middle" textLength="11.67" lengthAdjust="spacingAndGlyphs" fill="#231f20" stroke="#231f20" stroke-width="0.12">****</text>
<line x1="36.3" y1="232.3" x2="36.3" y2="327.1" stroke="#231f20" stroke-width="1"/>
<line x1="33.3" y1="327.1" x2="36.3" y2="327.1" stroke="#231f20" stroke-width="1.1"/>
<text x="30.2" y="330.0" font-size="8.4" text-anchor="end" textLength="4.45" lengthAdjust="spacingAndGlyphs" fill="#231f20" stroke="#231f20" stroke-width="0.12">0</text>
<line x1="33.3" y1="304.1" x2="36.3" y2="304.1" stroke="#231f20" stroke-width="1.1"/>
<text x="30.2" y="307.0" font-size="8.4" text-anchor="end" textLength="4.45" lengthAdjust="spacingAndGlyphs" fill="#231f20" stroke="#231f20" stroke-width="0.12">5</text>
<line x1="33.3" y1="281.1" x2="36.3" y2="281.1" stroke="#231f20" stroke-width="1.1"/>
<text x="30.2" y="284.0" font-size="8.4" text-anchor="end" textLength="8.9" lengthAdjust="spacingAndGlyphs" fill="#231f20" stroke="#231f20" stroke-width="0.12">10</text>
<line x1="33.3" y1="258.1" x2="36.3" y2="258.1" stroke="#231f20" stroke-width="1.1"/>
<text x="30.2" y="261.0" font-size="8.4" text-anchor="end" textLength="8.9" lengthAdjust="spacingAndGlyphs" fill="#231f20" stroke="#231f20" stroke-width="0.12">15</text>
<line x1="33.3" y1="235.10000000000002" x2="36.3" y2="235.10000000000002" stroke="#231f20" stroke-width="1.1"/>
<text x="30.2" y="238.00000000000003" font-size="8.4" text-anchor="end" textLength="8.9" lengthAdjust="spacingAndGlyphs" fill="#231f20" stroke="#231f20" stroke-width="0.12">20</text>
<line x1="36.3" y1="327.1" x2="170" y2="327.1" stroke="#231f20" stroke-width="1.1"/>
<line x1="56.7" y1="327.1" x2="56.7" y2="329.6" stroke="#231f20" stroke-width="0.9"/>
<text x="56.7" y="341" font-size="8.62" text-anchor="middle" textLength="8.34" lengthAdjust="spacingAndGlyphs" fill="#231f20" stroke="#231f20" stroke-width="0.12">54</text>
<rect x="41.85" y="253.45" width="12.60" height="73.65" fill="#b3b58f" stroke="#a4a67e" stroke-width="0.7"/>
<rect x="59.55" y="246.55" width="12.60" height="80.55" fill="#72a7d3" stroke="#5f98c8" stroke-width="0.7"/>
<path d="M50.300000000000004 235.7 L50.300000000000004 234.1 L62.900000000000006 234.1 L62.900000000000006 235.7" fill="none" stroke="#231f20" stroke-width="0.8"/>
<text x="56.60000000000001" y="231.6" font-size="7.82" text-anchor="middle" textLength="7.18" lengthAdjust="spacingAndGlyphs" fill="#231f20" stroke="#231f20" stroke-width="0.12">ns</text>
<line x1="102.9" y1="327.1" x2="102.9" y2="329.6" stroke="#231f20" stroke-width="0.9"/>
<text x="102.9" y="341" font-size="8.62" text-anchor="middle" textLength="8.34" lengthAdjust="spacingAndGlyphs" fill="#231f20" stroke="#231f20" stroke-width="0.12">60</text>
<rect x="88.05" y="244.95" width="12.60" height="82.15" fill="#b3b58f" stroke="#a4a67e" stroke-width="0.7"/>
<rect x="105.75" y="250.65" width="12.60" height="76.45" fill="#72a7d3" stroke="#5f98c8" stroke-width="0.7"/>
<path d="M96.5 235.7 L96.5 234.1 L109.10000000000001 234.1 L109.10000000000001 235.7" fill="none" stroke="#231f20" stroke-width="0.8"/>
<text x="102.80000000000001" y="231.6" font-size="7.82" text-anchor="middle" textLength="7.18" lengthAdjust="spacingAndGlyphs" fill="#231f20" stroke="#231f20" stroke-width="0.12">ns</text>
<line x1="149" y1="327.1" x2="149" y2="329.6" stroke="#231f20" stroke-width="0.9"/>
<text x="149" y="341" font-size="8.62" text-anchor="middle" textLength="8.34" lengthAdjust="spacingAndGlyphs" fill="#231f20" stroke="#231f20" stroke-width="0.12">72</text>
<rect x="134.15" y="244.95" width="12.60" height="82.15" fill="#b3b58f" stroke="#a4a67e" stroke-width="0.7"/>
<rect x="151.85" y="248.75" width="12.60" height="78.35" fill="#72a7d3" stroke="#5f98c8" stroke-width="0.7"/>
<path d="M142.6 235.7 L142.6 234.1 L155.2 234.1 L155.2 235.7" fill="none" stroke="#231f20" stroke-width="0.8"/>
<text x="148.89999999999998" y="231.6" font-size="7.82" text-anchor="middle" textLength="7.18" lengthAdjust="spacingAndGlyphs" fill="#231f20" stroke="#231f20" stroke-width="0.12">ns</text>
<text x="103.3" y="353.9" font-size="10.35" text-anchor="middle" textLength="13.2" lengthAdjust="spacingAndGlyphs" fill="#231f20" stroke="#231f20" stroke-width="0.12">hpi</text>
<text x="15.8" y="279.9" font-size="10.2" text-anchor="middle" transform="rotate(-90 15.8 279.9)" textLength="98" lengthAdjust="spacingAndGlyphs" fill="#231f20" stroke="#231f20" stroke-width="0.12">Avg # nuclei per parasite</text>
<rect x="173.85" y="238.85" width="9.60" height="5.75" fill="#b3b58f" stroke="#a4a67e" stroke-width="0.7"/>
<rect x="173.85" y="251.75" width="9.60" height="5.85" fill="#72a7d3" stroke="#5f98c8" stroke-width="0.7"/>
<text x="187.3" y="244.1" font-size="8.39" textLength="16.64" lengthAdjust="spacingAndGlyphs" fill="#231f20" stroke="#231f20" stroke-width="0.12">Adult</text>
<text x="187.3" y="257" font-size="8.39" textLength="15.82" lengthAdjust="spacingAndGlyphs" fill="#231f20" stroke="#231f20" stroke-width="0.12">Cord</text>
<line x1="248.5" y1="236.19999999999996" x2="248.5" y2="327.4" stroke="#231f20" stroke-width="1"/>
<line x1="245.5" y1="327.4" x2="248.5" y2="327.4" stroke="#231f20" stroke-width="1.1"/>
<text x="242.8" y="330.29999999999995" font-size="8.4" text-anchor="end" textLength="4.45" lengthAdjust="spacingAndGlyphs" fill="#231f20" stroke="#231f20" stroke-width="0.12">0</text>
<line x1="245.5" y1="305.29999999999995" x2="248.5" y2="305.29999999999995" stroke="#231f20" stroke-width="1.1"/>
<text x="242.8" y="308.19999999999993" font-size="8.4" text-anchor="end" textLength="4.45" lengthAdjust="spacingAndGlyphs" fill="#231f20" stroke="#231f20" stroke-width="0.12">5</text>
<line x1="245.5" y1="283.2" x2="248.5" y2="283.2" stroke="#231f20" stroke-width="1.1"/>
<text x="242.8" y="286.09999999999997" font-size="8.4" text-anchor="end" textLength="8.9" lengthAdjust="spacingAndGlyphs" fill="#231f20" stroke="#231f20" stroke-width="0.12">10</text>
<line x1="245.5" y1="261.09999999999997" x2="248.5" y2="261.09999999999997" stroke="#231f20" stroke-width="1.1"/>
<text x="242.8" y="263.99999999999994" font-size="8.4" text-anchor="end" textLength="8.9" lengthAdjust="spacingAndGlyphs" fill="#231f20" stroke="#231f20" stroke-width="0.12">15</text>
<line x1="245.5" y1="238.99999999999997" x2="248.5" y2="238.99999999999997" stroke="#231f20" stroke-width="1.1"/>
<text x="242.8" y="241.89999999999998" font-size="8.4" text-anchor="end" textLength="8.9" lengthAdjust="spacingAndGlyphs" fill="#231f20" stroke="#231f20" stroke-width="0.12">20</text>
<line x1="248.5" y1="327.4" x2="375.5" y2="327.4" stroke="#231f20" stroke-width="1.1"/>
<line x1="264.4" y1="327.4" x2="264.4" y2="329.9" stroke="#231f20" stroke-width="0.9"/>
<text x="264.4" y="340.3" font-size="8.62" text-anchor="middle" textLength="8.34" lengthAdjust="spacingAndGlyphs" fill="#231f20" stroke="#231f20" stroke-width="0.12">16</text>
<line x1="296.2" y1="327.4" x2="296.2" y2="329.9" stroke="#231f20" stroke-width="0.9"/>
<text x="296.2" y="340.3" font-size="8.62" text-anchor="middle" textLength="8.34" lengthAdjust="spacingAndGlyphs" fill="#231f20" stroke="#231f20" stroke-width="0.12">28</text>
<line x1="328.3" y1="327.4" x2="328.3" y2="329.9" stroke="#231f20" stroke-width="0.9"/>
<text x="328.3" y="340.3" font-size="8.62" text-anchor="middle" textLength="8.34" lengthAdjust="spacingAndGlyphs" fill="#231f20" stroke="#231f20" stroke-width="0.12">32</text>
<line x1="360.0" y1="327.4" x2="360.0" y2="329.9" stroke="#231f20" stroke-width="0.9"/>
<text x="360.0" y="340.3" font-size="8.62" text-anchor="middle" textLength="8.34" lengthAdjust="spacingAndGlyphs" fill="#231f20" stroke="#231f20" stroke-width="0.12">36</text>
<text x="312.2" y="354.5" font-size="10.35" text-anchor="middle" textLength="13.6" lengthAdjust="spacingAndGlyphs" fill="#231f20" stroke="#231f20" stroke-width="0.12">hpi</text>
<text x="227.8" y="281.6" font-size="10.2" text-anchor="middle" transform="rotate(-90 227.8 281.6)" textLength="98.4" lengthAdjust="spacingAndGlyphs" fill="#231f20" stroke="#231f20" stroke-width="0.12">Avg # nuclei per parasite</text>
<polyline points="264.4,322.10 296.2,312.37 328.3,283.64 360.0,255.80" fill="none" stroke="#3d5a86" stroke-width="1.3"/>
<polygon points="264.4,319.896 266.59999999999997,322.096 264.4,324.296 262.2,322.096" fill="#3d5a86"/>
<polygon points="296.2,310.17199999999997 298.4,312.37199999999996 296.2,314.57199999999995 294.0,312.37199999999996" fill="#3d5a86"/>
<polygon points="328.3,281.442 330.5,283.642 328.3,285.842 326.1,283.642" fill="#3d5a86"/>
<polygon points="360.0,253.596 362.2,255.796 360.0,257.996 357.8,255.796" fill="#3d5a86"/>
<polyline points="264.4,321.65 296.2,311.93 328.3,282.76 360.0,254.47" fill="none" stroke="#3c6e50" stroke-width="1.3"/>
<polygon points="264.4,319.49399999999997 266.4,323.094 262.4,323.094" fill="#3c6e50"/>
<polygon points="296.2,309.7699999999999 298.2,313.36999999999995 294.2,313.36999999999995" fill="#3c6e50"/>
<polygon points="328.3,280.59799999999996 330.3,284.198 326.3,284.198" fill="#3c6e50"/>
<polygon points="360.0,252.30999999999997 362.0,255.90999999999997 358.0,255.90999999999997" fill="#3c6e50"/>
<polyline points="264.4,322.54 296.2,313.26 328.3,288.06 360.0,263.31" fill="none" stroke="#72a7d3" stroke-width="1.3"/>
<rect x="262.59999999999997" y="320.73799999999994" width="3.6" height="3.6" fill="#72a7d3"/>
<rect x="294.4" y="311.45599999999996" width="3.6" height="3.6" fill="#72a7d3"/>
<rect x="326.5" y="286.26199999999994" width="3.6" height="3.6" fill="#72a7d3"/>
<rect x="358.2" y="261.50999999999993" width="3.6" height="3.6" fill="#72a7d3"/>
<polyline points="264.4,323.42 296.2,314.14 328.3,288.72 360.0,259.33" fill="none" stroke="#b3b58f" stroke-width="1.6"/>
<circle cx="264.4" cy="323.42199999999997" r="1.9" fill="#b3b58f"/>
<circle cx="296.2" cy="314.14" r="1.9" fill="#b3b58f"/>
<circle cx="328.3" cy="288.72499999999997" r="1.9" fill="#b3b58f"/>
<circle cx="360.0" cy="259.332" r="1.9" fill="#b3b58f"/>
<line x1="360" y1="252.3" x2="360" y2="254.8" stroke="#3c6e50" stroke-width="0.8"/>
<line x1="357.5" y1="252.3" x2="362.5" y2="252.3" stroke="#3c6e50" stroke-width="0.9"/>
<line x1="394.9" y1="245.4" x2="404.9" y2="245.4" stroke="#b3b58f" stroke-width="1.3"/>
<circle cx="399.9" cy="245.4" r="2.09" fill="#b3b58f"/>
<text x="408" y="248.0" font-size="8.28" textLength="28.82" lengthAdjust="spacingAndGlyphs" fill="#231f20" stroke="#231f20" stroke-width="0.12">Adult 1%</text>
<line x1="394.9" y1="257.8" x2="404.9" y2="257.8" stroke="#72a7d3" stroke-width="1.3"/>
<rect x="397.91999999999996" y="255.82000000000002" width="3.9600000000000004" height="3.9600000000000004" fill="#72a7d3"/>
<text x="408" y="260.40000000000003" font-size="8.28" textLength="28.01" lengthAdjust="spacingAndGlyphs" fill="#231f20" stroke="#231f20" stroke-width="0.12">Cord 1%</text>
<line x1="394.9" y1="270.2" x2="404.9" y2="270.2" stroke="#3c6e50" stroke-width="1.3"/>
<polygon points="399.9,267.824 402.09999999999997,271.784 397.7,271.784" fill="#3c6e50"/>
<text x="408" y="272.8" font-size="8.28" textLength="32.82" lengthAdjust="spacingAndGlyphs" fill="#231f20" stroke="#231f20" stroke-width="0.12">Adult 10%</text>
<line x1="394.9" y1="282.6" x2="404.9" y2="282.6" stroke="#3d5a86" stroke-width="1.3"/>
<polygon points="399.9,280.18 402.32,282.6 399.9,285.02000000000004 397.47999999999996,282.6" fill="#3d5a86"/>
<text x="408" y="285.20000000000005" font-size="8.28" textLength="32.02" lengthAdjust="spacingAndGlyphs" fill="#231f20" stroke="#231f20" stroke-width="0.12">Cord 10%</text>
<line x1="36.5" y1="386.2" x2="36.5" y2="496.8" stroke="#231f20" stroke-width="1"/>
<line x1="33.5" y1="496.8" x2="36.5" y2="496.8" stroke="#231f20" stroke-width="1.1"/>
<text x="30.8" y="499.7" font-size="8.4" text-anchor="end" textLength="4.45" lengthAdjust="spacingAndGlyphs" fill="#231f20" stroke="#231f20" stroke-width="0.12">0</text>
<line x1="33.5" y1="469.85" x2="36.5" y2="469.85" stroke="#231f20" stroke-width="1.1"/>
<text x="30.8" y="472.75" font-size="8.4" text-anchor="end" textLength="4.45" lengthAdjust="spacingAndGlyphs" fill="#231f20" stroke="#231f20" stroke-width="0.12">5</text>
<line x1="33.5" y1="442.90000000000003" x2="36.5" y2="442.90000000000003" stroke="#231f20" stroke-width="1.1"/>
<text x="30.8" y="445.8" font-size="8.4" text-anchor="end" textLength="8.9" lengthAdjust="spacingAndGlyphs" fill="#231f20" stroke="#231f20" stroke-width="0.12">10</text>
<line x1="33.5" y1="415.95000000000005" x2="36.5" y2="415.95000000000005" stroke="#231f20" stroke-width="1.1"/>
<text x="30.8" y="418.85" font-size="8.4" text-anchor="end" textLength="8.9" lengthAdjust="spacingAndGlyphs" fill="#231f20" stroke="#231f20" stroke-width="0.12">15</text>
<line x1="33.5" y1="389.0" x2="36.5" y2="389.0" stroke="#231f20" stroke-width="1.1"/>
<text x="30.8" y="391.9" font-size="8.4" text-anchor="end" textLength="8.9" lengthAdjust="spacingAndGlyphs" fill="#231f20" stroke="#231f20" stroke-width="0.12">20</text>
<line x1="36.5" y1="496.8" x2="196.7" y2="496.8" stroke="#231f20" stroke-width="1.1"/>
<line x1="54.5" y1="496.8" x2="54.5" y2="499.3" stroke="#231f20" stroke-width="0.9"/>
<text x="54.5" y="510" font-size="8.62" text-anchor="middle" textLength="8.34" lengthAdjust="spacingAndGlyphs" fill="#231f20" stroke="#231f20" stroke-width="0.12">16</text>
<rect x="41.25" y="492.55" width="11.70" height="4.25" fill="#b3b58f" stroke="#a4a67e" stroke-width="0.7"/>
<rect x="56.95" y="492.35" width="11.60" height="4.45" fill="#9a8fc0" stroke="#8a7fb2" stroke-width="0.7"/>
<line x1="95.8" y1="496.8" x2="95.8" y2="499.3" stroke="#231f20" stroke-width="0.9"/>
<text x="95.8" y="510" font-size="8.62" text-anchor="middle" textLength="8.34" lengthAdjust="spacingAndGlyphs" fill="#231f20" stroke="#231f20" stroke-width="0.12">28</text>
<rect x="82.55" y="487.25" width="11.70" height="9.55" fill="#b3b58f" stroke="#a4a67e" stroke-width="0.7"/>
<rect x="98.25" y="489.25" width="11.60" height="7.55" fill="#9a8fc0" stroke="#8a7fb2" stroke-width="0.7"/>
<line x1="137.2" y1="496.8" x2="137.2" y2="499.3" stroke="#231f20" stroke-width="0.9"/>
<text x="137.2" y="510" font-size="8.62" text-anchor="middle" textLength="8.34" lengthAdjust="spacingAndGlyphs" fill="#231f20" stroke="#231f20" stroke-width="0.12">32</text>
<rect x="123.95" y="470.55" width="11.70" height="26.25" fill="#b3b58f" stroke="#a4a67e" stroke-width="0.7"/>
<rect x="139.65" y="470.55" width="11.60" height="26.25" fill="#9a8fc0" stroke="#8a7fb2" stroke-width="0.7"/>
<line x1="178.6" y1="496.8" x2="178.6" y2="499.3" stroke="#231f20" stroke-width="0.9"/>
<text x="178.6" y="510" font-size="8.62" text-anchor="middle" textLength="8.34" lengthAdjust="spacingAndGlyphs" fill="#231f20" stroke="#231f20" stroke-width="0.12">36</text>
<rect x="165.35" y="433.75" width="11.70" height="63.05" fill="#b3b58f" stroke="#a4a67e" stroke-width="0.7"/>
<rect x="181.05" y="445.55" width="11.60" height="51.25" fill="#9a8fc0" stroke="#8a7fb2" stroke-width="0.7"/>
<text x="116.9" y="523.3" font-size="10.35" text-anchor="middle" textLength="13.2" lengthAdjust="spacingAndGlyphs" fill="#231f20" stroke="#231f20" stroke-width="0.12">hpi</text>
<text x="15.8" y="441.7" font-size="10.2" text-anchor="middle" transform="rotate(-90 15.8 441.7)" textLength="98.2" lengthAdjust="spacingAndGlyphs" fill="#231f20" stroke="#231f20" stroke-width="0.12">Avg # nuclei per parasite</text>
<rect x="51.55" y="399.15" width="12.30" height="7.85" fill="#b3b58f" stroke="#a4a67e" stroke-width="0.7"/>
<rect x="51.55" y="414.55" width="12.30" height="7.85" fill="#9a8fc0" stroke="#8a7fb2" stroke-width="0.7"/>
<text x="67.3" y="405.2" font-size="8.05" textLength="18.29" lengthAdjust="spacingAndGlyphs" fill="#231f20" stroke="#231f20" stroke-width="0.12">HbAA</text>
<text x="67.3" y="420.6" font-size="8.05" textLength="34.62" lengthAdjust="spacingAndGlyphs" fill="#231f20" stroke="#231f20" stroke-width="0.12">HbA/HPFH</text>
<path d="M170.3 407.90000000000003 L170.3 406.3 L187.2 406.3 L187.2 407.90000000000003" fill="none" stroke="#231f20" stroke-width="0.8"/>
<text x="178.75" y="403.8" font-size="8.62" text-anchor="middle" textLength="7.92" lengthAdjust="spacingAndGlyphs" fill="#231f20" stroke="#231f20" stroke-width="0.12">ns</text>
<line x1="129.6" y1="456" x2="129.6" y2="470.2" stroke="#333" stroke-width="1"/>
<line x1="126.6" y1="456" x2="132.6" y2="456" stroke="#231f20" stroke-width="1"/>
<line x1="171" y1="414.2" x2="171" y2="433.4" stroke="#444" stroke-width="1"/>
<line x1="168.0" y1="414.2" x2="174.0" y2="414.2" stroke="#231f20" stroke-width="1"/>
<line x1="186.6" y1="435.6" x2="186.6" y2="445.2" stroke="#333" stroke-width="1"/>
<line x1="183.6" y1="435.6" x2="189.6" y2="435.6" stroke="#231f20" stroke-width="1"/>
<line x1="145" y1="465" x2="145" y2="470.2" stroke="#333" stroke-width="1"/>
<line x1="142.0" y1="465" x2="148.0" y2="465" stroke="#231f20" stroke-width="1"/>
<circle cx="43.4" cy="490.6" r="2.4" fill="#aa2339"/>
<rect x="43.5" y="487.7" width="4.6" height="4.6" fill="#3d5f8e"/>
<polygon points="48.4,488.79999999999995 51.0,491.4 48.4,494.0 45.8,491.4" fill="#5ba85a"/>
<polygon points="50.6,488.7 53.1,493.2 48.1,493.2" fill="#f2bf3a"/>
<rect x="62.2" y="487.9" width="4.6" height="4.6" fill="#3d5f8e"/>
<polygon points="60.8,488.59999999999997 63.4,491.2 60.8,493.8 58.199999999999996,491.2" fill="#5ba85a"/>
<polygon points="58,488.7 60.5,493.2 55.5,493.2" fill="#f2bf3a"/>
<circle cx="84" cy="486" r="2.4" fill="#aa2339"/>
<rect x="84.60000000000001" y="487.5" width="4.6" height="4.6" fill="#3d5f8e"/>
<polygon points="89.4,483.59999999999997 92.0,486.2 89.4,488.8 86.80000000000001,486.2" fill="#5ba85a"/>
<polygon points="91.5,481.5 94.0,486.0 89.0,486.0" fill="#f2bf3a"/>
<rect x="104.7" y="483.9" width="4.6" height="4.6" fill="#3d5f8e"/>
<polygon points="104,485.9 106.6,488.5 104,491.1 101.4,488.5" fill="#5ba85a"/>
<polygon points="101.5,484.3 104.0,488.8 99.0,488.8" fill="#f2bf3a"/>
<circle cx="127" cy="470.4" r="2.4" fill="#aa2339"/>
<rect x="127.3" y="481.2" width="4.6" height="4.6" fill="#3d5f8e"/>
<polygon points="129.6,448.3 132.1,452.8 127.1,452.8" fill="#f2bf3a"/>
<polygon points="132.3,470.5 134.70000000000002,472.9 132.3,475.29999999999995 129.9,472.9" fill="#111"/>
<circle cx="148.1" cy="472.5" r="2.4" fill="#aa2339"/>
<rect x="140.7" y="463.09999999999997" width="4.6" height="4.6" fill="#3d5f8e"/>
<polygon points="142.5,473.4 145.1,476 142.5,478.6 139.9,476" fill="#5ba85a"/>
<polygon points="148,463.1 150.5,467.6 145.5,467.6" fill="#f2bf3a"/>
<circle cx="171" cy="418.2" r="2.4" fill="#aa2339"/>
<rect x="168.7" y="456.5" width="4.6" height="4.6" fill="#3d5f8e"/>
<polygon points="173.5,426.0 176.1,428.6 173.5,431.20000000000005 170.9,428.6" fill="#5ba85a"/>
<polygon points="168.5,423.8 171.0,428.3 166.0,428.3" fill="#f2bf3a"/>
<circle cx="186.6" cy="431.4" r="2.4" fill="#aa2339"/>
<rect x="182.29999999999998" y="446.0" width="4.6" height="4.6" fill="#3d5f8e"/>
<polygon points="187.3,445.9 189.9,448.5 187.3,451.1 184.70000000000002,448.5" fill="#5ba85a"/>
<polygon points="189.4,445.3 191.9,449.8 186.9,449.8" fill="#f2bf3a"/>
</svg>
</body></html>
